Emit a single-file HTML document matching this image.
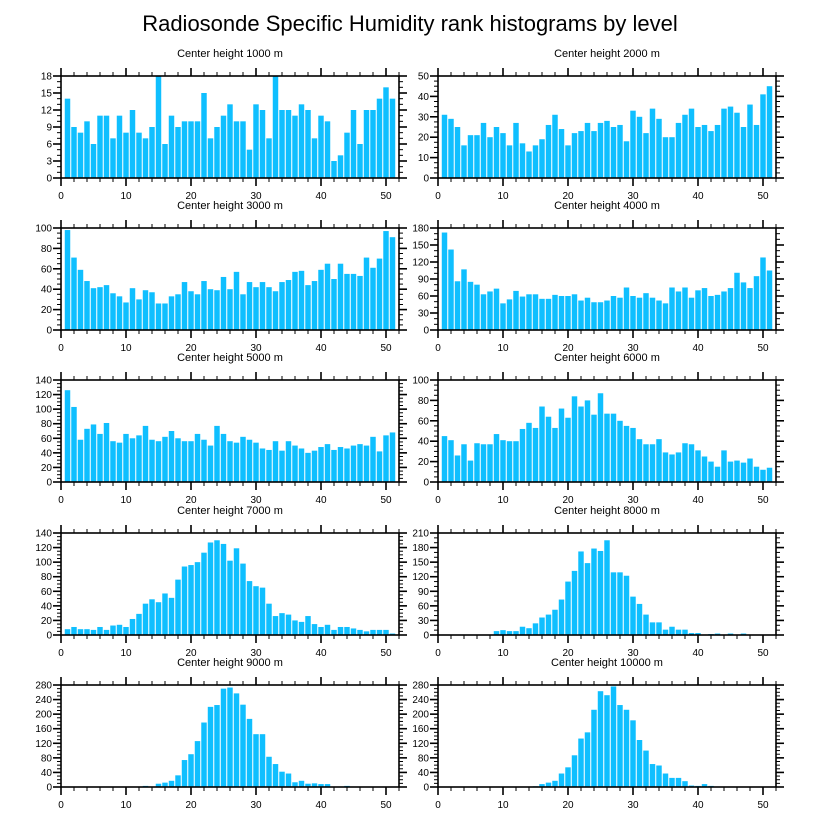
<!DOCTYPE html>
<html><head><meta charset="utf-8"><style>
body{margin:0;background:#fff;}
svg{display:block;font-family:"Liberation Sans",sans-serif;}
</style></head><body>
<svg id="chart" width="816" height="824" viewBox="0 0 816 824">
<text x="410" y="31" text-anchor="middle" font-size="22">Radiosonde Specific Humidity rank histograms by level</text>
</svg>
<script>
const bins = [1,2,3,4,5,6,7,8,9,10,11,12,13,14,15,16,17,18,19,20,21,22,23,24,25,26,27,28,29,30,31,32,33,34,35,36,37,38,39,40,41,42,43,44,45,46,47,48,49,50,51];
const levels = ["1000","2000","3000","4000","5000","6000","7000","8000","9000","10000"];
const yMaxes = [18,50,100,180,140,100,140,210,280,280];
const ySteps = [3,10,20,30,20,20,20,30,40,40];
const xTicks = [0,10,20,30,40,50];
const v1000 = [14,9,8,10,6,11,11,7,11,8,12,8,7,9,18,6,11,9,10,10,10,15,7,9,11,13,10,10,5,13,12,7,18,12,12,11,13,12,7,11,10,3,4,8,12,6,12,12,14,16,14];
const v2000 = [31,29,25,16,21,21,27,20,25,22,16,27,17,13,16,19,26,31,24,16,22,23,27,23,27,28,25,26,18,33,30,22,34,29,20,20,27,31,34,25,26,23,26,34,35,32,25,36,26,41,45];
const v3000 = [98,71,59,48,41,42,44,36,33,27,41,30,39,37,26,26,33,35,47,38,35,48,40,39,52,40,57,35,47,42,47,42,38,47,49,57,58,44,48,59,65,50,65,55,55,53,71,61,70,97,91];
const v4000 = [172,142,86,107,85,80,63,68,73,47,54,69,59,63,63,55,55,62,60,60,63,52,57,49,49,52,60,57,75,60,57,65,57,52,47,75,68,75,57,70,74,60,62,68,74,101,84,74,95,128,105];
const v5000 = [126,103,58,73,79,66,81,56,54,66,60,64,77,58,56,62,70,60,56,56,66,58,50,77,66,56,54,62,58,54,46,44,56,43,56,50,46,40,43,48,52,44,48,46,50,52,50,62,42,64,68];
const v6000 = [45,41,26,37,21,38,37,37,47,41,40,40,52,58,53,74,64,53,72,63,84,74,80,66,87,67,67,60,55,53,42,37,37,42,29,27,29,38,37,31,25,20,15,31,20,21,19,23,15,12,14];
const v7000 = [8,11,8,8,7,11,7,13,14,11,22,29,43,49,45,57,51,76,94,96,100,113,127,130,125,102,119,98,74,67,65,43,26,30,28,20,18,26,15,11,14,7,11,11,9,7,5,7,7,7,2];
const v8000 = [0,0,0,0,0,0,0,0,8,10,8,8,17,14,24,36,42,52,73,110,132,172,148,178,173,195,129,129,122,79,64,42,26,26,11,17,11,11,4,4,0,2,3,0,3,0,3,0,0,0,0];
const v9000 = [0,0,0,0,0,0,0,0,0,0,1,0,3,0,9,12,17,32,74,90,126,177,220,225,270,273,257,226,187,145,145,83,63,42,37,13,17,9,10,8,8,0,1,3,1,0,0,0,0,0,0];
const v10000 = [0,0,0,0,0,0,0,0,0,0,0,0,0,0,2,8,12,17,37,54,87,133,150,212,263,252,276,225,212,183,129,100,63,59,37,25,25,16,4,3,8,3,0,0,0,0,0,0,0,0,0];
const series = [v1000,v2000,v3000,v4000,v5000,v6000,v7000,v8000,v9000,v10000];

const NS = "http://www.w3.org/2000/svg";
const svg = document.getElementById("chart");
const colX = [61, 438];
const rowTop = [76, 228, 380, 533, 685];
const PW = 338, PH = 102, XMAX = 52;
function mk(tag, attrs, parent){const e=document.createElementNS(NS,tag);for(const k in attrs)e.setAttribute(k,attrs[k]);(parent||svg).appendChild(e);return e;}

series.forEach((vals, p) => {
  const x0 = colX[p % 2], y0 = rowTop[Math.floor(p / 2)];
  const ymax = yMaxes[p], ystep = ySteps[p];
  const sx = v => x0 + v / XMAX * PW;
  const sy = v => y0 + PH - v / ymax * PH;
  const g = mk("g", {});
  
  
  const t = mk("text", {x: x0 + PW / 2, y: y0 - 19, "text-anchor": "middle", "font-size": "11"}, g);
  t.textContent = "Center height " + levels[p] + " m";
  
  
  vals.forEach((v, i) => {
    if (v <= 0) return;
    const c = bins[i];
    const r = mk("rect", {x: sx(c - 0.42), y: sy(Math.min(v, ymax)), width: 0.84 * PW / XMAX, height: sy(0) - sy(Math.min(v, ymax)), fill: "#0fbfff"}, g);
    
    
  });
  const fr = mk("rect", {x: x0, y: y0, width: PW, height: PH, fill: "none", stroke: "#000", "stroke-width": "1.6"}, g);
  
  
  for (let v = 0; v <= XMAX; v += 2) {
    const major = v % 10 === 0, L = major ? 8 : 4, xx = sx(v);
    mk("line", {x1: xx, x2: xx, y1: y0 + PH, y2: y0 + PH + L, stroke: "#000", "stroke-width": major ? 1.6 : 1}, g);
    mk("line", {x1: xx, x2: xx, y1: y0, y2: y0 - L, stroke: "#000", "stroke-width": major ? 1.6 : 1}, g);
  }
  xTicks.forEach(v => {
    const tl = mk("text", {x: sx(v), y: y0 + PH + 21, "text-anchor": "middle", "font-size": "10"}, g);
    tl.textContent = v;
    
    
  });
  const sub = (ystep % 3 === 0) ? 3 : 4;
  const ms = ystep / sub;
  for (let k = 0; k * ms <= ymax + 1e-9; k++) {
    const v = k * ms, major = k % sub === 0, L = major ? 8 : 4, yy = sy(v);
    mk("line", {x1: x0, x2: x0 - L, y1: yy, y2: yy, stroke: "#000", "stroke-width": major ? 1.6 : 1}, g);
    mk("line", {x1: x0 + PW, x2: x0 + PW + L, y1: yy, y2: yy, stroke: "#000", "stroke-width": major ? 1.6 : 1}, g);
    if (major) {
      const yl = mk("text", {x: x0 - 9, y: yy + 3.5, "text-anchor": "end", "font-size": "10"}, g);
      yl.textContent = Math.round(v);
      
      
    }
  }
});
</script>
</body></html>
